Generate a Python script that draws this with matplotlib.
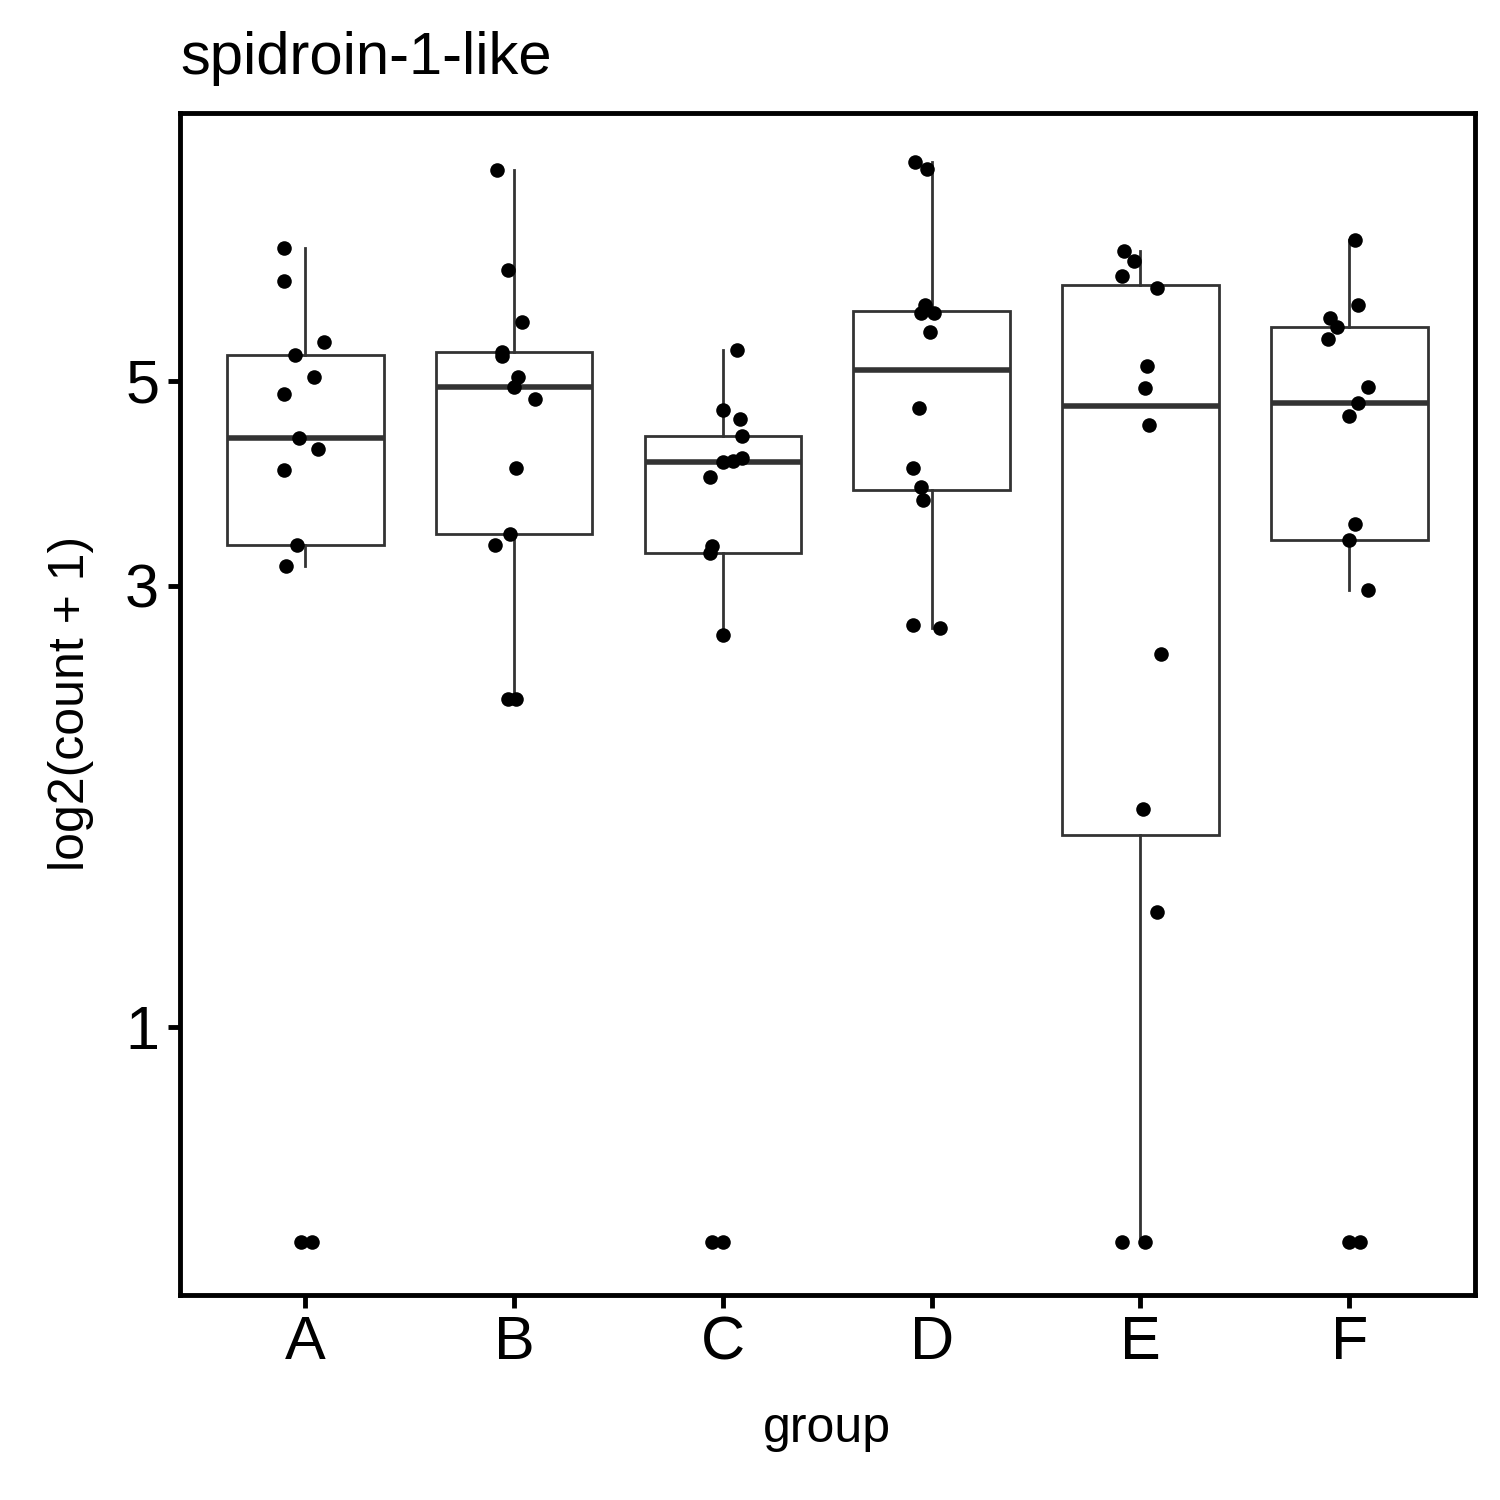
import numpy as np
import matplotlib
matplotlib.use("Agg")
import matplotlib.pyplot as plt

plt.rcParams['font.family'] = ['Liberation Sans', 'DejaVu Sans']

groups = ["A", "B", "C", "D", "E", "F"]
Z = 0.585  # zero counts shown at this level
vals = {
 "A": [6.96, 6.40, 5.51, 5.33, 5.05, 4.83, 4.33, 4.22, 4.00, 3.32, 3.15, Z, Z],
 "B": [8.44, 6.59, 5.79, 5.37, 5.31, 5.05, 4.92, 4.78, 4.02, 3.41, 3.32, 2.26, 2.26],
 "C": [5.40, 4.65, 4.54, 4.35, 4.12, 4.09, 4.08, 3.93, 3.31, 3.25, 2.65, Z, Z],
 "D": [8.61, 8.48, 6.04, 5.92, 5.92, 5.64, 4.67, 4.02, 3.84, 3.71, 2.72, 2.70],
 "E": [6.91, 6.73, 6.48, 6.29, 5.18, 4.91, 4.48, 2.53, 1.72, 1.33, Z, Z],
 "F": [7.09, 6.04, 5.85, 5.72, 5.54, 4.92, 4.73, 4.58, 3.50, 3.36, 2.97, Z, Z],
}
jit = {
 "A": [-0.10, -0.10, 0.09, -0.05, 0.04, -0.10, -0.03, 0.06, -0.10, -0.04, -0.09, -0.02, 0.03],
 "B": [-0.08, -0.03, 0.04, -0.06, -0.06, 0.02, 0.0, 0.10, 0.01, -0.02, -0.09, -0.03, 0.01],
 "C": [0.07, 0.0, 0.08, 0.09, 0.09, 0.05, 0.0, -0.06, -0.05, -0.06, 0.0, -0.05, 0.0],
 "D": [-0.08, -0.02, -0.03, -0.05, 0.01, -0.01, -0.06, -0.09, -0.05, -0.04, -0.09, 0.04],
 "E": [-0.08, -0.03, -0.09, 0.08, 0.03, 0.02, 0.04, 0.10, 0.01, 0.08, -0.09, 0.02],
 "F": [0.03, 0.04, -0.09, -0.06, -0.10, 0.09, 0.04, 0.0, 0.03, 0.0, 0.09, 0.0, 0.05],
}
yticks = [1, 3, 5]

fig = plt.figure(figsize=(15, 15), dpi=100)
ax = fig.add_axes([0.12, 0.137, 0.863, 0.788])

data = [np.log(vals[g]) for g in groups]
ax.boxplot(data, positions=range(len(groups)), widths=0.75, showfliers=False,
           whis=1.5, patch_artist=True,
           boxprops=dict(facecolor='white', edgecolor='#333333', linewidth=2),
           medianprops=dict(color='#333333', linewidth=4),
           whiskerprops=dict(color='#333333', linewidth=2),
           capprops=dict(linewidth=0), zorder=1)
for i, g in enumerate(groups):
    ax.scatter(np.array(jit[g]) + i, np.log(vals[g]), s=110, color='black', zorder=3, linewidths=0)

ax.set_xlim(-0.6, 5.6)
ax.set_ylim(np.log(0.513), np.log(9.75))
ax.set_xticks(range(len(groups)))
ax.set_xticklabels(groups)
ax.set_yticks(np.log(yticks))
ax.set_yticklabels([str(t) for t in yticks])
ax.tick_params(labelsize=44, width=3.5, length=9, pad=6, color='black', labelcolor='black')
for s in ax.spines.values():
    s.set_linewidth(3.5)
ax.set_xlabel("group", fontsize=36, labelpad=24)
ax.set_ylabel("log2(count + 1)", fontsize=36, labelpad=22)
ax.set_title("spidroin-1-like", fontsize=43, loc='left', pad=28)
fig.savefig("out.png", dpi=100)
